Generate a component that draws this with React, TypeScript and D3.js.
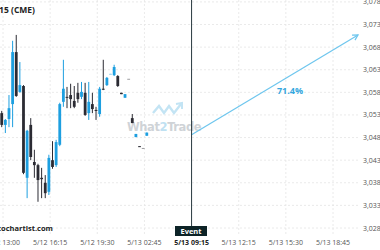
import React from "react";
import * as d3 from "d3";

const W = 380;
const H = 250;

// candle data, in price units
const opens = [3053.4, 3050.8, 3052.1, 3055.4, 3066.9, 3058.1, 3059.4, 3039.1, 3050.8, 3042.6, 3041.9, 3039.1, 3038.0, 3036.0, 3043.0, 3041.9, 3046.4, 3055.9, 3057.0, 3057.4, 3056.1, 3057.9, 3057.0, 3057.9, 3053.4, 3055.4, 3054.1, 3053.2, 3058.8, 3059.6, 3062.0, 3061.8, 3061.6, 3057.9, 3056.8, 3061.0, 3052.3, 3048.1, 3046.1, 3045.7, 3048.4];
const closes = [3050.8, 3051.9, 3054.5, 3066.9, 3057.2, 3059.6, 3040.2, 3049.5, 3043.7, 3041.9, 3038.6, 3038.8, 3035.7, 3043.5, 3041.5, 3047.0, 3055.4, 3058.8, 3056.9, 3056.5, 3054.8, 3056.5, 3058.1, 3053.0, 3055.9, 3054.3, 3054.0, 3058.8, 3058.6, 3061.2, 3062.1, 3063.6, 3059.4, 3057.6, 3057.6, 3061.0, 3051.2, 3048.8, 3046.0, 3045.6, 3049.1];
const highs = [3053.9, 3052.1, 3057.4, 3069.4, 3070.7, 3064.7, 3059.6, 3049.7, 3052.3, 3045.3, 3042.2, 3041.3, 3039.7, 3044.2, 3047.2, 3047.5, 3055.7, 3065.2, 3059.2, 3059.9, 3059.4, 3060.1, 3060.3, 3060.1, 3060.3, 3057.9, 3054.8, 3059.2, 3065.2, 3061.4, 3062.1, 3064.1, 3061.8, 3057.9, 3057.6, 3061.0, 3053.2, 3048.8, 3046.1, 3045.7, 3049.1];
const lows = [3050.3, 3049.0, 3050.3, 3050.3, 3057.0, 3057.9, 3039.9, 3034.6, 3043.0, 3039.1, 3033.8, 3034.6, 3034.6, 3035.3, 3041.1, 3041.5, 3046.1, 3054.8, 3054.5, 3054.5, 3054.5, 3055.7, 3056.5, 3052.8, 3051.9, 3053.4, 3051.9, 3052.6, 3058.5, 3059.4, 3062.0, 3061.6, 3059.2, 3057.6, 3056.8, 3061.0, 3051.2, 3048.1, 3046.0, 3045.6, 3048.4];
const faded = [30, 35, 39];

const yTicks = [3028, 3033, 3038, 3043, 3048, 3053, 3058, 3063, 3068, 3073, 3078];
const xTickSlots = [0, 13, 26, 39, 52, 65, 78, 91];
const xTickLabels = ["5/12 13:00", "5/12 16:15", "5/12 19:30", "5/13 02:45", "5/13 09:15", "5/13 12:15", "5/13 15:30", "5/13 18:45"];
const eventSlot = 52;

// forecast arrow
const arrowStart = { slot: 52, price: 3048.6 };
const arrowEnd = { slot: 97.9, price: 3070.7 };
const arrowLabel = "71.4%";

const BLUE = "#1d9fe0";
const DARK = "#2b2b33";
const FONT = "'Open Sans', 'DejaVu Sans', sans-serif";

export default function App() {
  const x = d3.scaleLinear().domain([0, 91]).range([3, 333]);
  const y = d3.scaleLinear().domain([3028, 3078]).range([228, 1.9]);
  const bw = 2.8;

  const ax1 = x(arrowStart.slot), ay1 = y(arrowStart.price);
  const ax2 = x(arrowEnd.slot), ay2 = y(arrowEnd.price);
  const ang = Math.atan2(ay2 - ay1, ax2 - ax1);
  const hl = 6;
  const h1 = [ax2 - hl * Math.cos(ang - 0.5), ay2 - hl * Math.sin(ang - 0.5)];
  const h2 = [ax2 - hl * Math.cos(ang + 0.5), ay2 - hl * Math.sin(ang + 0.5)];
  const ex = x(eventSlot);

  return (
    <svg width={W} height={H} style={{ position: "absolute", left: 0, top: 0, background: "#fff" }} fontFamily={FONT}>
      <rect width={W} height={H} fill="#fff" />
      {yTicks.map((t) => (
        <line key={"h" + t} x1={0} x2={360} y1={y(t)} y2={y(t)} stroke="#e4e4e4" strokeWidth={0.8} strokeDasharray="2,2" />
      ))}
      {xTickSlots.map((s) => (
        <line key={"v" + s} x1={x(s)} x2={x(s)} y1={0} y2={236} stroke="#e4e4e4" strokeWidth={0.8} strokeDasharray="2,2" />
      ))}
      {/* watermark */}
      <g>
        <polyline points="153,113 159,106 164,113 169,106 174,113 181,104" fill="none" stroke="#c3e4f4" strokeWidth={2.4} />
        <polyline points="176,104 182,103 182,109" fill="none" stroke="#c3e4f4" strokeWidth={2} />
        <text x={127} y={131} fontSize={11.5} fontWeight="bold" fill="#cfd3d7" fontFamily="'DejaVu Sans', sans-serif" letterSpacing={-0.4}>
          What<tspan fill="#bfe1f2">2</tspan>Trade
        </text>
      </g>
      {opens.map((o, i) => {
        const c = closes[i];
        const up = c > o;
        const col = up ? BLUE : DARK;
        const cx = x(i - 0.35);
        const top = y(Math.max(o, c));
        const bot = y(Math.min(o, c));
        const op = faded.includes(i) ? 0.45 : 1;
        return (
          <g key={i} opacity={op}>
            <line x1={cx} x2={cx} y1={y(highs[i])} y2={y(lows[i])} stroke={col} strokeWidth={1} />
            <rect x={cx - bw / 2} y={top} width={bw} height={Math.max(bot - top, 1)} fill={col} />
          </g>
        );
      })}
      {/* arrow */}
      <line x1={ax1} y1={ay1} x2={ax2} y2={ay2} stroke="#6ec6ee" strokeWidth={1.2} />
      <polyline points={`${h1[0]},${h1[1]} ${ax2},${ay2} ${h2[0]},${h2[1]}`} fill="none" stroke="#6ec6ee" strokeWidth={1.2} />
      <text x={290} y={94} fontSize={9} fontWeight="bold" fill="#35a7de" textAnchor="middle">{arrowLabel}</text>
      {/* event line */}
      <line x1={ex} x2={ex} y1={0} y2={227} stroke="#2a3a40" strokeWidth={1} />
      {yTicks.map((t) => (
        <text key={"yl" + t} x={363} y={y(t) + 2.5} fontSize={7} fill="#555">{d3.format(",.2f")(t)}</text>
      ))}
      {xTickSlots.map((s, i) => (
        <text key={"xl" + s} x={x(s)} y={245} fontSize={7} fill={s === eventSlot ? "#222" : "#555"} fontWeight={s === eventSlot ? "bold" : "normal"} textAnchor="middle">{xTickLabels[i]}</text>
      ))}
      <rect x={175} y={226} width={32} height={10} fill="#0d2327" />
      <text x={191} y={233.8} fontSize={7.5} fontWeight="bold" fill="#fff" textAnchor="middle">Event</text>
      <text x={35} y={13} fontSize={8.5} fontWeight="bold" fill="#222" textAnchor="end">ES M15 (CME)</text>
      <text x={53} y={231} fontSize={7.5} fontWeight="bold" fill="#222" textAnchor="end">autochartist.com</text>
    </svg>
  );
}
